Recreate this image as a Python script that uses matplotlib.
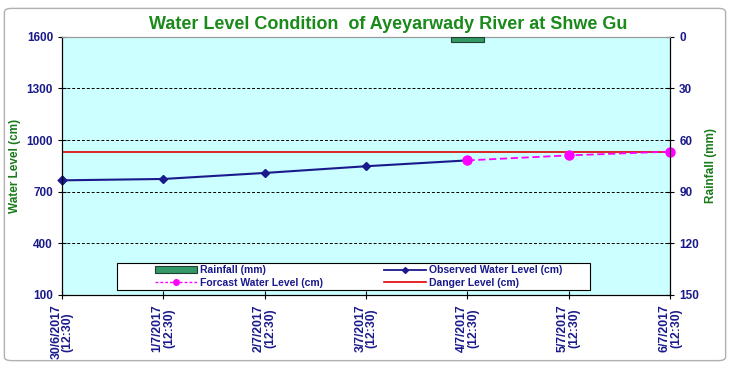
import matplotlib
matplotlib.use("Agg")
import matplotlib.pyplot as plt
from matplotlib.patches import FancyBboxPatch, Rectangle
from matplotlib.lines import Line2D
from matplotlib.patches import Patch

plt.rcParams['font.family'] = ['Liberation Sans', 'DejaVu Sans']

dates = ["30/6/2017\n(12:30)", "1/7/2017\n(12:30)", "2/7/2017\n(12:30)", "3/7/2017\n(12:30)",
         "4/7/2017\n(12:30)", "5/7/2017\n(12:30)", "6/7/2017\n(12:30)"]
observed = [766, 774, 809, 848, 882]
forecast_idx = [4, 5, 6]
forecast = [882, 911, 933]
danger = 931
rain_idx = [4]
rainfall = [3]

navy = "#1a1a8c"
green = "#1a7a1a"

fig = plt.figure(figsize=(7.3, 3.65), dpi=100)
fig.patch.set_facecolor("white")
fig.patches.append(FancyBboxPatch((0.006, 0.012), 0.988, 0.965, boxstyle="round,pad=0,rounding_size=0.01",
                                  transform=fig.transFigure, fill=False, edgecolor="#b0b0b0", lw=1.0))

ax = fig.add_axes([0.085, 0.192, 0.833, 0.707])
ax.set_facecolor("#ccffff")
ax2 = ax.twinx()

x = list(range(len(dates)))
ax.set_xlim(0, len(dates) - 1)
ax.set_ylim(100, 1600)
ax.set_yticks([100, 400, 700, 1000, 1300, 1600])
for yv in [400, 700, 1000, 1300]:
    ax.axhline(yv, color="black", ls=(0, (3, 2)), lw=0.7, zorder=1)
ax.axhline(danger, color="#e00000", lw=1.2, zorder=2)
ax.plot(x[:len(observed)], observed, color=navy, lw=1.5, marker="D", ms=4.5, zorder=4)
ax.plot(forecast_idx, forecast, color="#ff00ff", lw=1.3, ls=(0, (4, 2)), marker="o", ms=6.5,
        zorder=5, clip_on=False)
ax.scatter([0], [observed[0]], color=navy, marker="D", s=20, zorder=6, clip_on=False)

ax2.set_ylim(150, 0)
ax2.set_yticks([0, 30, 60, 90, 120, 150])
ax2.bar(rain_idx, rainfall, width=0.33, color="#339966", edgecolor="#1f3f2f", lw=0.8, zorder=3)

ax.set_xticks(x)
ax.set_xticklabels(dates, rotation=90, fontsize=8.8, fontweight="bold", color=navy, linespacing=0.95)
for a in (ax, ax2):
    a.tick_params(axis="y", labelsize=8.5, labelcolor=navy, direction="inout", length=6, width=0.8)
    for lab in a.get_yticklabels():
        lab.set_fontweight("bold")
    for s in a.spines.values():
        s.set_linewidth(0.8)
ax.tick_params(axis="x", direction="inout", length=6, width=0.8, pad=4)
ax.spines["top"].set_color("#999999")
ax2.spines["top"].set_color("#999999")

ax.set_ylabel("Water Level (cm)", color=green, fontsize=8.5, fontweight="bold", labelpad=4)
ax2.set_ylabel("Rainfall (mm)", color=green, fontsize=8.5, fontweight="bold", labelpad=4)

fig.text(0.532, 0.932, "Water Level Condition  of Ayeyarwady River at Shwe Gu", ha="center", va="center",
         fontsize=13, fontweight="bold", color="#1a8a1a")

# legend box
ax2.add_patch(Rectangle((0.0905, 0.019), 0.7775, 0.105, transform=ax.transAxes, facecolor="white",
                        edgecolor="black", lw=0.8, zorder=9))

handles = [Patch(facecolor="#339966", edgecolor="#1f3f2f", lw=0.8),
           Line2D([], [], color="#ff00ff", lw=1, ls=(0, (2, 1.5)), marker="o", ms=4),
           Line2D([], [], color=navy, lw=1.3, marker="D", ms=3),
           Line2D([], [], color="#e00000", lw=1.2)]
labels = ["Rainfall (mm)", "Forcast Water Level (cm)", "Observed Water Level (cm)", "Danger Level (cm)"]
leg = ax2.legend(handles, labels, ncol=2, loc="center left", bbox_to_anchor=(0.153, 0.0715),
                 frameon=False, prop={"size": 7.5, "weight": "bold"},
                 labelcolor=navy, handlelength=4, borderpad=0, borderaxespad=0, labelspacing=0.2,
                 columnspacing=5.9, handletextpad=0.3)
leg.set_zorder(10)

fig.savefig("out.png", dpi=100)
